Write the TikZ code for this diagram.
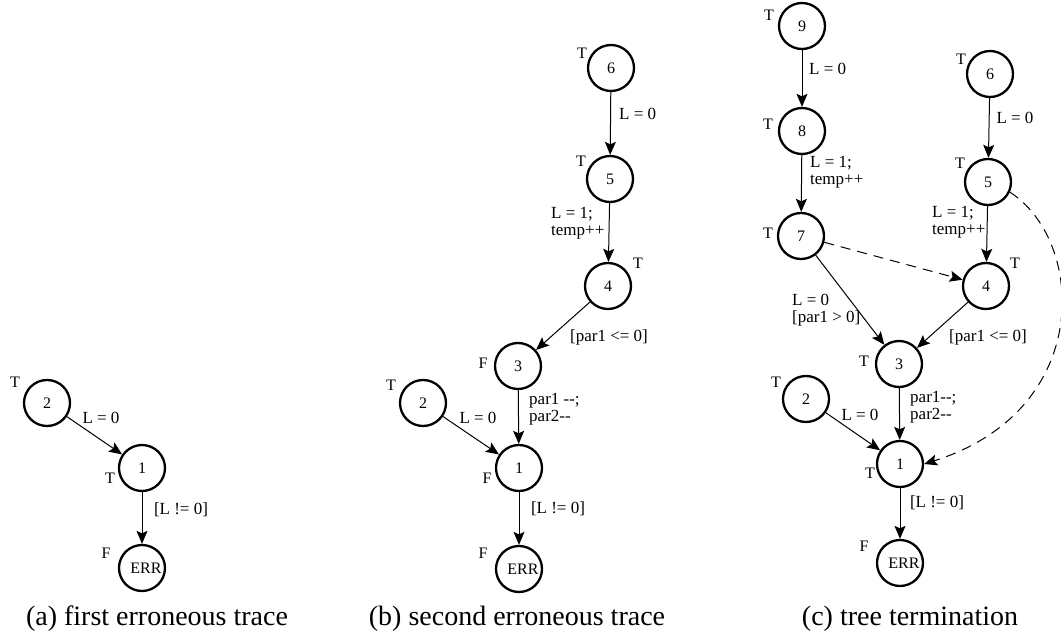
\documentclass[tikz,border=0pt]{standalone}
\usepackage{fontspec}
\setmainfont{Liberation Serif}[Ligatures=TeXOff]
\usetikzlibrary{arrows.meta}
\begin{document}
\begin{tikzpicture}[x=1pt,y=-1pt,
 st/.style={circle,draw,line width=2.3pt,minimum size=46pt,inner sep=0pt,font=\fontsize{16}{18}\selectfont},
 tf/.style={inner sep=0pt,font=\fontsize{16}{18}\selectfont},
 lab/.style={inner sep=0pt,align=left,font=\fontsize{17}{17}\selectfont},
 captxt/.style={inner sep=0pt,font=\fontsize{28}{30}\selectfont},
 conn/.style={line width=1pt,-{Stealth[length=13pt,width=11pt,inset=2.5pt]}},
 dconn/.style={conn,dash pattern=on 10pt off 7pt}]
\useasboundingbox (0,0) rectangle (1061,642);
\newcommand{\errtext}{\makebox[0pt]{\hspace{8pt}ERR}}
% ---------- (a)
\node[st] (a2) at (47,403) {2};
\node[st] (a1) at (142,468) {1};
\node[st] (aE) at (142,568) {\errtext};
\node[tf] (a2t) at (15,382) {T};
\node[tf] (a1t) at (110,478) {T};
\node[tf] (aEt) at (106,553) {F};
\draw[conn] (a2) -- (a1);
\draw[conn] (a1) -- (aE);
\node[lab] (al1) at (101,418) {L = 0};
\node[lab] (al2) at (181,510) {[L != 0]};
\node[captxt] (acap) at (157,619) {(a) first erroneous trace};
% ---------- (b)
\node[st] (b6) at (611,68) {6};
\node[st] (b5) at (610,179) {5};
\node[st] (b4) at (608,286) {4};
\node[st] (b3) at (518,366) {3};
\node[st] (b2) at (423,403) {2};
\node[st] (b1) at (519,468) {1};
\node[st] (bE) at (519,569) {\errtext};
\node[tf] (b6t) at (582,53) {T};
\node[tf] (b5t) at (581,161) {T};
\node[tf] (b4t) at (638,263) {T};
\node[tf] (b3t) at (483,363) {F};
\node[tf] (b2t) at (391,385) {T};
\node[tf] (b1t) at (487,478) {F};
\node[tf] (bEt) at (483,553) {F};
\draw[conn] (b6) -- (b5);
\draw[conn] (b5) -- (b4);
\draw[conn] (b4) -- (b3);
\draw[conn] (b3) -- (b1);
\draw[conn] (b2) -- (b1);
\draw[conn] (b1) -- (bE);
\node[lab,anchor=west] (bl1) at (619,114) {L = 0};
\node[lab,anchor=west] (bl2) at (551,223) {L = 1;\\temp++};
\node[lab] (bl3) at (609,337) {[par1 <= 0]};
\node[lab,anchor=west] (bl4) at (529,409) {par1 --;\\par2--};
\node[lab] (bl5) at (478,418) {L = 0};
\node[lab] (bl6) at (558,509) {[L != 0]};
\node[captxt] (bcap) at (517,619) {(b) second erroneous trace};
% ---------- (c)
\node[st] (c9) at (802,26) {9};
\node[st] (c8) at (802,131) {8};
\node[st] (c7) at (801,236) {7};
\node[st] (c6) at (990,74) {6};
\node[st] (c5) at (988,182) {5};
\node[st] (c4) at (986,286) {4};
\node[st] (c3) at (899,364) {3};
\node[st] (c2) at (806,399) {2};
\node[st] (c1) at (900,464) {1};
\node[st] (cE) at (900,563) {\errtext};
\node[tf] (c9t) at (769,15) {T};
\node[tf] (c8t) at (768,124) {T};
\node[tf] (c7t) at (768,233) {T};
\node[tf] (c6t) at (961,59) {T};
\node[tf] (c5t) at (960,163) {T};
\node[tf] (c4t) at (1015,263) {T};
\node[tf] (c3t) at (864,361) {T};
\node[tf] (c2t) at (776,382) {T};
\node[tf] (c1t) at (870,473) {T};
\node[tf] (cEt) at (864,546) {F};
\draw[conn] (c9) -- (c8);
\draw[conn] (c8) -- (c7);
\draw[conn] (c6) -- (c5);
\draw[conn] (c5) -- (c4);
\draw[conn] (c7) -- (c3);
\draw[conn] (c4) -- (c3);
\draw[conn] (c3) -- (c1);
\draw[conn] (c2) -- (c1);
\draw[conn] (c1) -- (cE);
\draw[dconn] (c7) -- (c4);
\draw[dconn] (c5.-25) .. controls (1085,240) and (1095,410) .. (c1.east);
\node[lab,anchor=west] (cl1) at (809,69) {L = 0};
\node[lab,anchor=west] (cl2) at (810,172) {L = 1;\\temp++};
\node[lab] (cl3) at (1015,118) {L = 0};
\node[lab,anchor=west] (cl4) at (932,222) {L = 1;\\temp++};
\node[lab,anchor=west] (cl5) at (792,310) {L = 0\\{}[par1 > 0]};
\node[lab] (cl6) at (988,337) {[par1 <= 0]};
\node[lab,anchor=west] (cl7) at (910,407) {par1--;\\par2--};
\node[lab] (cl8) at (860,415) {L = 0};
\node[lab] (cl9) at (937,503) {[L != 0]};
\node[captxt] (ccap) at (910,619) {(c) tree termination};
\end{tikzpicture}
\end{document}
